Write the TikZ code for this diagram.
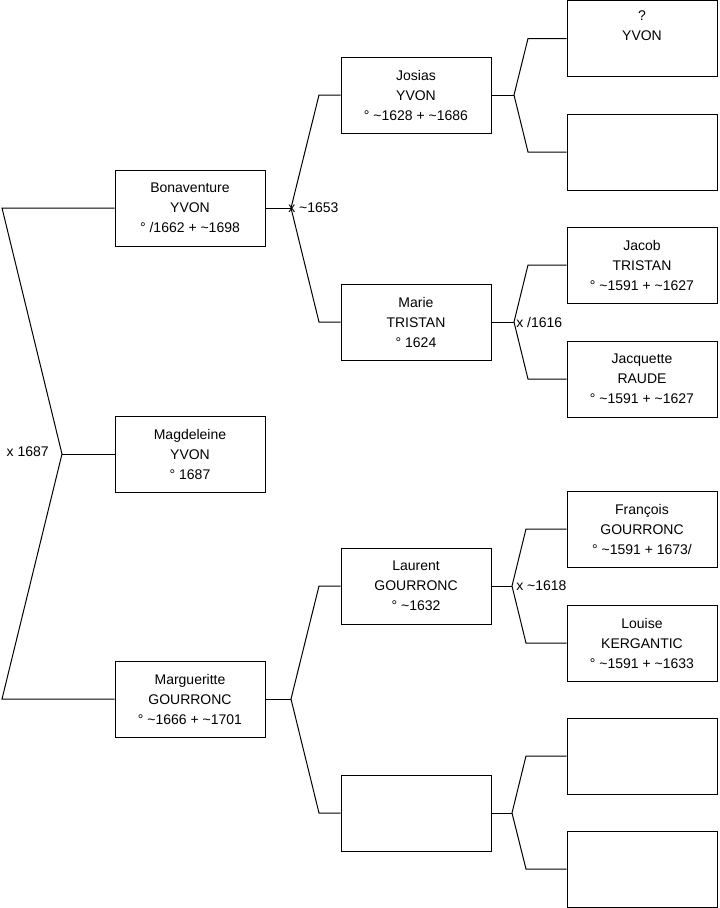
\documentclass[tikz,border=0pt]{standalone}
\usepackage{fontspec}
\setmainfont{Liberation Sans}

\begin{document}
\begin{tikzpicture}[x=0.75pt, y=-0.75pt,
    person/.style={draw, rectangle, line width=0.75pt, minimum width=112.5pt,
        minimum height=57pt, inner sep=0pt, align=center,
        font=\fontsize{10.5}{15}\selectfont},
    link/.style={line width=0.75pt},
    wedding/.style={inner sep=0pt, font=\fontsize{10.5}{12}\selectfont}]
    \useasboundingbox (0,0) rectangle (719,908);
    % generation 1
    \node[person] (bona) at (190,208) {Bonaventure\\YVON\\° /1662 + \textasciitilde1698};
    \node[person] (magd) at (190,454) {Magdeleine\\YVON\\° 1687};
    \node[person] (marg) at (190,699) {Margueritte\\GOURRONC\\° \textasciitilde1666 + \textasciitilde1701};
    % generation 2
    \node[person] (josias) at (416,95) {Josias\\YVON\\° \textasciitilde1628 + \textasciitilde1686};
    \node[person] (marie) at (416,322) {Marie\\TRISTAN\\° 1624};
    \node[person] (laurent) at (416,586) {Laurent\\GOURRONC\\° \textasciitilde1632};
    \node[person] (nobody2) at (416,813) {};
    % generation 3
    \node[person] (yvon) at (642,38.5) {?\\YVON\\\strut};
    \node[person] (nobodyA) at (642,152) {};
    \node[person] (jacob) at (642,265) {Jacob\\TRISTAN\\° \textasciitilde1591 + \textasciitilde1627};
    \node[person] (jacquette) at (642,379) {Jacquette\\RAUDE\\° \textasciitilde1591 + \textasciitilde1627};
    \node[person] (francois) at (642,529) {François\\GOURRONC\\° \textasciitilde1591 + 1673/};
    \node[person] (louise) at (642,643) {Louise\\KERGANTIC\\° \textasciitilde1591 + \textasciitilde1633};
    \node[person] (nobodyB) at (642,756) {};
    \node[person] (nobodyC) at (642,869) {};
    % junctions and elbows
    \coordinate (e0) at (2,0);
    \coordinate (e1) at (319,0);
    \coordinate (e2) at (528,0);
    \coordinate (e3) at (526,0);
    \coordinate (j0) at (62,454);
    \coordinate (jb) at (291,208);
    \coordinate (jm) at (291,699);
    \coordinate (jj) at (514,95);
    \coordinate (jr) at (514,322);
    \coordinate (jl) at (512,586);
    \coordinate (jn) at (512,813);
    % links
    \draw[link] (bona.west) -- (bona.west -| e0) -- (j0) -- (marg.west -| e0) -- (marg.west);
    \draw[link] (j0) -- (magd.west);
    \draw[link] (bona.east) -- (jb);
    \draw[link] (josias.west) -- (josias.west -| e1) -- (jb) -- (marie.west -| e1) -- (marie.west);
    \draw[link] (marg.east) -- (jm);
    \draw[link] (laurent.west) -- (laurent.west -| e1) -- (jm) -- (nobody2.west -| e1) -- (nobody2.west);
    \draw[link] (josias.east) -- (jj);
    \draw[link] (yvon.west) -- (yvon.west -| e2) -- (jj) -- (nobodyA.west -| e2) -- (nobodyA.west);
    \draw[link] (marie.east) -- (jr);
    \draw[link] (jacob.west) -- (jacob.west -| e2) -- (jr) -- (jacquette.west -| e2) -- (jacquette.west);
    \draw[link] (laurent.east) -- (jl);
    \draw[link] (francois.west) -- (francois.west -| e3) -- (jl) -- (louise.west -| e3) -- (louise.west);
    \draw[link] (nobody2.east) -- (jn);
    \draw[link] (nobodyB.west) -- (nobodyB.west -| e3) -- (jn) -- (nobodyC.west -| e3) -- (nobodyC.west);
    % marriages
    \node[wedding, anchor=east] (w0) at (49,452) {x 1687};
    \node[wedding, anchor=west] (wb) at (288,208) {x \textasciitilde1653};
    \node[wedding, anchor=west] (wr) at (516,322) {x /1616};
    \node[wedding, anchor=west] (wl) at (516,586) {x \textasciitilde1618};
\end{tikzpicture}
\end{document}
